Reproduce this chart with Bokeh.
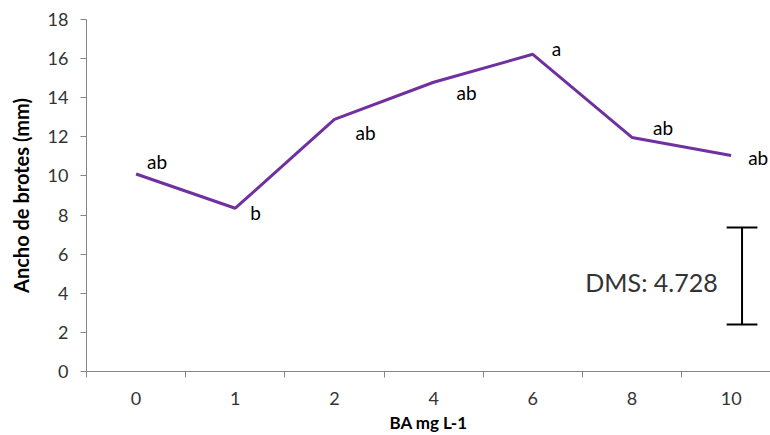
from bokeh.plotting import figure
from bokeh.models import Range1d, FixedTicker, Label, ColumnDataSource
from bokeh.embed import file_html
from bokeh.resources import INLINE
from bokeh.core.properties import value

categories = ["0", "1", "2", "4", "6", "8", "10"]
widths = [10.10, 8.35, 12.89, 14.79, 16.22, 11.97, 11.05]
letters = ["ab", "b", "ab", "ab", "a", "ab", "ab"]
dms_label = "DMS: 4.728"
dms_low = 2.40
dms_high = 7.36
dms_pos = 6.61
y_ticks = [0, 2, 4, 6, 8, 10, 12, 14, 16, 18]

FONT = "Lato"
PURPLE = "#7030A0"
AXIS = "#868686"

xs = [i + 0.5 for i in range(len(categories))]

# label offsets in screen pixels (x right, y up)
off_x = [11, 15, 21, 23, 19, 21, 17]
off_y = [12, -4, -13, -10, 6, 10, -2]

p = figure(width=770, height=435, output_backend="svg", toolbar_location=None,
           x_range=Range1d(0, 6.897), y_range=Range1d(0, 18),
           min_border_left=86, min_border_right=0, min_border_top=19,
           min_border_bottom=63)
p.outline_line_color = None
p.xgrid.grid_line_color = None
p.ygrid.grid_line_color = None
p.background_fill_color = "white"
p.border_fill_color = "white"

src = ColumnDataSource(dict(x=xs, y=widths, t=letters, ox=off_x, oy=[-v for v in off_y]))
p.line("x", "y", source=src, line_color=PURPLE, line_width=3)
p.text("x", "y", text="t", source=src, x_offset="ox", y_offset="oy",
       text_font=value(FONT), text_font_size="19px", text_color="black",
       text_align="left", text_baseline="middle")

# DMS bar
p.segment(x0=[dms_pos], y0=[dms_low], x1=[dms_pos], y1=[dms_high], line_color="black", line_width=2)
p.segment(x0=[dms_pos - 0.155, dms_pos - 0.155], y0=[dms_low, dms_high],
          x1=[dms_pos + 0.155, dms_pos + 0.155], y1=[dms_low, dms_high],
          line_color="black", line_width=2)
p.add_layout(Label(x=5.03, y=4.6, text=dms_label, text_font=FONT, text_font_size="25px",
                   text_color="#333333", text_align="left", text_baseline="middle"))

# x axis
xa = p.xaxis[0]
xa.ticker = FixedTicker(ticks=xs, minor_ticks=list(range(len(categories) + 1)))
xa.major_label_overrides = {x: c for x, c in zip(xs, categories)}
xa.major_tick_out = 0
xa.major_tick_in = 0
xa.minor_tick_out = 6
xa.minor_tick_in = 0
xa.minor_tick_line_color = AXIS
xa.axis_line_color = AXIS
xa.major_label_standoff = 14
xa.major_label_text_font = FONT
xa.major_label_text_font_size = "18px"
xa.major_label_text_color = "#333333"
xa.axis_label = "BA mg L-1"
xa.axis_label_text_font = FONT
xa.axis_label_text_font_size = "17px"
xa.axis_label_text_font_style = "bold"
xa.axis_label_text_color = "black"
xa.axis_label_standoff = 4

# y axis
ya = p.yaxis[0]
ya.ticker = FixedTicker(ticks=y_ticks, minor_ticks=[])
ya.major_tick_out = 6
ya.major_tick_in = 0
ya.major_tick_line_color = AXIS
ya.axis_line_color = AXIS
ya.major_label_standoff = 12
ya.major_label_text_font = FONT
ya.major_label_text_font_size = "18px"
ya.major_label_text_color = "#333333"
ya.axis_label = "Ancho de brotes (mm)"
ya.axis_label_text_font = FONT
ya.axis_label_text_font_size = "20px"
ya.axis_label_text_font_style = "bold"
ya.axis_label_text_color = "black"
ya.axis_label_standoff = 12

open("out.html", "w").write(file_html(p, INLINE))
